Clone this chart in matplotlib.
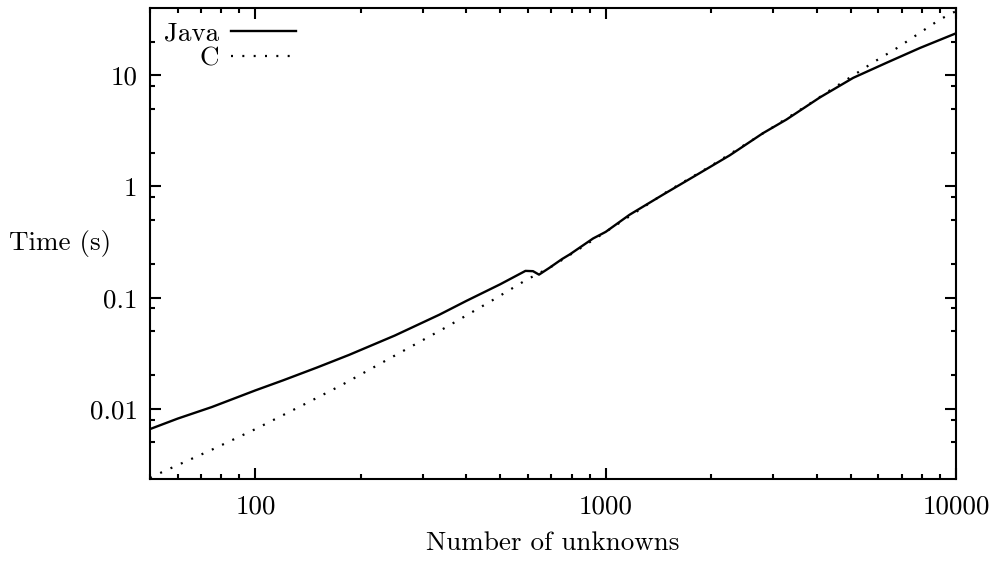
import numpy as np
import matplotlib
matplotlib.use('Agg')
import matplotlib.pyplot as plt
from matplotlib.ticker import LogLocator, FixedLocator, NullFormatter

plt.rcParams['font.family'] = 'cmr10'
plt.rcParams['axes.formatter.use_mathtext'] = True
plt.rcParams['axes.unicode_minus'] = False

# ── Data ──────────────────────────────────────────────────────────────────────
java_n = [50, 60, 75, 100, 120, 150, 185, 250, 335, 400, 500, 590, 620, 645,
          690, 750, 790, 920, 1000, 1170, 1460, 1820, 2260, 2810, 3280, 4090,
          5090, 6340, 7890, 10000]
java_t = [0.0066, 0.0082, 0.0104, 0.0147, 0.0181, 0.0236, 0.0306, 0.0457,
          0.0703, 0.0935, 0.132, 0.174, 0.173, 0.161, 0.185, 0.222, 0.245,
          0.34, 0.39, 0.556, 0.845, 1.27, 1.9, 3.0, 3.98, 6.3, 9.44, 12.9,
          17.5, 23.7]

c_n = [50, 54, 75, 100, 137, 175, 250, 350, 475, 590, 650, 700, 800, 1000,
       1500, 2000, 3000, 3800, 4400, 5060, 5830, 6770, 7830, 9000, 10000]
c_t = [0.0024, 0.0027, 0.0043, 0.0066, 0.0109, 0.0162, 0.0302, 0.0542,
       0.0948, 0.143, 0.168, 0.19, 0.248, 0.39, 0.9, 1.53, 3.4, 5.45, 7.4,
       9.8, 13.1, 17.4, 23.6, 31.6, 37.5]

x_ticks = [100, 1000, 10000]
x_ticklabels = ['100', '1000', '10000']
y_ticks = [0.01, 0.1, 1, 10]
y_ticklabels = ['0.01', '0.1', '1', '10']

FS = 19.5

# ── Plot ──────────────────────────────────────────────────────────────────────
fig = plt.figure(figsize=(9.97, 5.63), dpi=100)
ax = fig.add_axes([150 / 997, 84 / 563, 806 / 997, 471 / 563])

ax.plot(java_n, java_t, color='black', lw=1.7, label='Java')
ax.plot(c_n, c_t, color='black', lw=1.6, ls=(0, (0.9, 4.2)), label='C')

ax.set_xscale('log')
ax.set_yscale('log')
ax.set_xlim(50, 10000)
ax.set_ylim(0.00235, 40)

ax.xaxis.set_major_locator(FixedLocator(x_ticks))
ax.set_xticklabels(x_ticklabels)
ax.xaxis.set_minor_locator(LogLocator(base=10, subs=np.arange(2, 10)))
ax.xaxis.set_minor_formatter(NullFormatter())

ax.yaxis.set_major_locator(FixedLocator(y_ticks))
ax.set_yticklabels(y_ticklabels)
ax.yaxis.set_minor_locator(LogLocator(base=10, subs=[2, 5, 8]))
ax.yaxis.set_minor_formatter(NullFormatter())

ax.tick_params(which='both', direction='in', top=True, right=True,
               width=1.5, labelsize=FS, color='black')
ax.tick_params(which='major', length=8)
ax.tick_params(which='minor', length=3.5)
ax.tick_params(axis='x', which='major', pad=11)
ax.tick_params(axis='y', which='major', pad=9)

for sp in ax.spines.values():
    sp.set_linewidth(1.5)

ax.set_xlabel('Number of unknowns', fontsize=FS)
ax.xaxis.set_label_coords(0.5, -0.112)
ax.set_ylabel('Time (s)', fontsize=FS, rotation=0, ha='center', va='center')
ax.yaxis.set_label_coords(-0.112, 0.5)

ax.legend(loc='upper left', frameon=False, fontsize=FS, markerfirst=False,
          handlelength=2.4, handletextpad=0.45, labelspacing=0.05,
          borderaxespad=0.4, borderpad=0.1)

fig.savefig('out.png', dpi=100)
